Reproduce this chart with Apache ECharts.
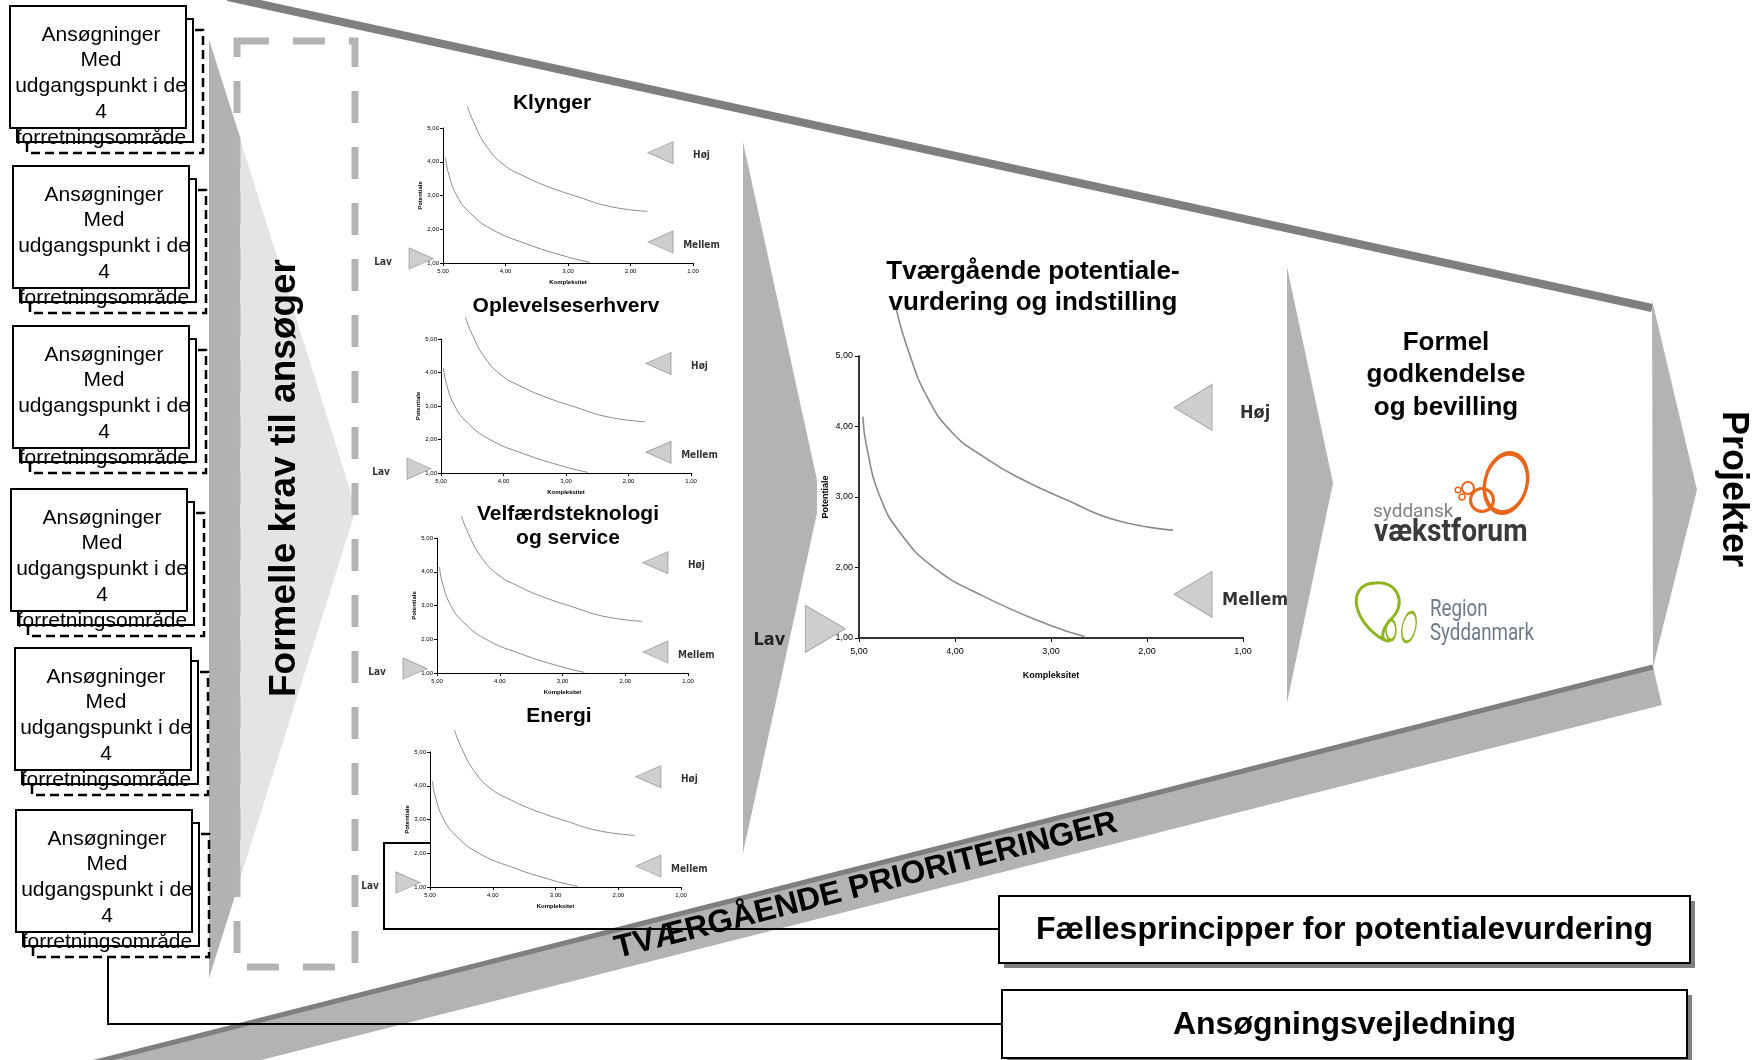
<!DOCTYPE html>
<html><head><meta charset="utf-8">
<script src="https://cdn.jsdelivr.net/npm/echarts@6/dist/echarts.min.js"></script>
<style>html,body{margin:0;padding:0;background:#fff}#c{width:1764px;height:1060px}</style>
</head><body><div id="c"></div>
<script>
// ---- data ----
const upperCurve = [[4.61,5.65],[4.50,5.13],[4.29,4.42],[4.02,3.90],[3.70,3.57],[3.36,3.29],[2.84,2.96],[2.32,2.67],[1.73,2.53]];
const lowerCurve = [[4.96,4.14],[4.92,3.71],[4.78,3.00],[4.57,2.49],[4.23,2.01],[3.70,1.59],[3.01,1.18],[2.65,1.02]];
const levelLabels = ['Høj','Mellem','Lav'];
const levelPoints = [[1.52,4.27],[1.52,1.62],[5.35,1.13]];
const axisRange = [1,5];
const xAxisName = 'Kompleksitet';
const yAxisName = 'Potentiale';
const chartTitles = ['Klynger','Oplevelseserhverv','Velfærdsteknologi\nog service','Energi','Tværgående potentiale-\nvurdering og indstilling'];
const boxLines = ['Ansøgninger','Med','udgangspunkt i de','4','forretningsområde'];
const stageTitles = ['Formelle krav til ansøger','Formel\ngodkendelse\nog bevilling','Projekter'];
const bandText = 'TVÆRGÅENDE PRIORITERINGER';
const footerBoxes = ['Fællesprincipper for potentialevurdering','Ansøgningsvejledning'];
const logoTexts = ['syddansk','vækstforum','Region','Syddanmark'];

// ---- layout ----
const panels = [
  {left:443, top:128, width:250, height:135, tx:552, ty:103, big:false},
  {left:441, top:339, width:250, height:134, tx:566, ty:306, big:false},
  {left:437, top:538, width:251, height:135, tx:568, ty:526, big:false},
  {left:430, top:752, width:251, height:135, tx:559, ty:716, big:false},
  {left:859, top:356, width:384, height:282, tx:1033, ty:287.5, big:true}
];
const boxPos = [[10,6],[13,166],[13,326],[11,489],[15,648],[16,810]];

const NARROW = "'Liberation Sans Narrow','DejaVu Sans Condensed','Liberation Sans',Arial,sans-serif";
const SANS = "'Liberation Sans',Arial,sans-serif";
const fmt = v => v.toFixed(2).replace('.', ',');

const grids=[], xAxes=[], yAxes=[], series=[];
panels.forEach((p,i)=>{
  const big = p.big;
  grids.push({left:p.left, top:p.top, width:p.width, height:p.height, containLabel:false, outerBoundsMode:'none'});
  const axisLab = {fontSize: big?9:6, color:'#000', fontFamily:SANS, formatter: fmt};
  const lineSt = {color: big?'#333':'#000', width: big?2:1};
  xAxes.push({gridIndex:i, type:'value', min:axisRange[0], max:axisRange[1], interval:1, inverse:true,
    name:xAxisName, nameLocation:'middle', nameGap: big?33:16,
    nameTextStyle:{fontSize: big?9:6, fontWeight:'bold', color:'#000', fontFamily:SANS},
    axisLine:{show:true, onZero:false, lineStyle:lineSt},
    axisTick:{show:true, length: big?4:3, lineStyle:{color:'#000', width:1}},
    axisLabel:Object.assign({margin: big?9:5}, axisLab), splitLine:{show:false}});
  yAxes.push({gridIndex:i, type:'value', min:axisRange[0], max:axisRange[1], interval:1,
    name:yAxisName, nameLocation:'middle', nameRotate:90, nameGap: big?29:19,
    nameTextStyle:{fontSize: big?9:6, fontWeight:'bold', color:'#000', fontFamily:SANS},
    axisLine:{show:true, onZero:false, lineStyle:lineSt},
    axisTick:{show:true, length: big?4:3, lineStyle:{color:'#000', width:1}},
    axisLabel:Object.assign({margin: big?6:4}, axisLab), splitLine:{show:false}});
  [upperCurve, lowerCurve].forEach(c=>{
    series.push({type:'line', xAxisIndex:i, yAxisIndex:i, data:c, smooth:true, showSymbol:false, clip:false,
      silent:true, lineStyle:{color:'#8a8a8a', width: big?1.6:1}});
  });
  series.push({type:'scatter', xAxisIndex:i, yAxisIndex:i, clip:false, silent:true,
    itemStyle:{color:'#c2c2c2', borderColor:'#9a9a9a', borderWidth:1},
    data: levelPoints.map((pt,k)=>({
      value: pt,
      symbol:'triangle',
      symbolRotate: k<2 ? 90 : -90,
      symbolSize: big ? (k<2?[46,38]:[47,40]) : (k<2?[22,25]:[21,24]),
      label:{show:true, position:'inside', formatter: levelLabels[k], color:'#000',
        fontFamily:NARROW, fontWeight:'bold', fontSize: big?18:10,
        offset: big ? (k<2?[62,6]:[-56,11]) : (k<2?[41,3]:[-38,4])}
    }))});
});

// ---- graphic elements ----
const G = [];
// top funnel line
G.push({type:'line', shape:{x1:228,y1:-3,x2:1652,y2:308}, style:{stroke:'#7f7f7f', lineWidth:8}, z:1});
// bottom band
G.push({type:'polygon', shape:{points:[[60,1071],[1653,667],[1662,705],[60,1111]]}, style:{fill:'#b3b3b3'}, z:1});
G.push({type:'line', shape:{x1:60,y1:1071,x2:1653,y2:667}, style:{stroke:'#7f7f7f', lineWidth:5}, z:1});
// left big arrow
G.push({type:'polygon', shape:{points:[[209,40],[356,509],[209,978]]}, style:{fill:'#e4e4e4'}, z:1});
G.push({type:'polygon', shape:{points:[[209,40],[240,137],[240,880],[209,978]]}, style:{fill:'#b2b2b2'}, z:1});
// chevrons
G.push({type:'polygon', shape:{points:[[743,142],[817,480],[817,513],[743,853]]}, style:{fill:'#b3b3b3'}, z:1});
G.push({type:'polygon', shape:{points:[[1287,267],[1333,483],[1287,703]]}, style:{fill:'#b3b3b3'}, z:1});
G.push({type:'polygon', shape:{points:[[1652,300],[1697,490],[1653,667]]}, style:{fill:'#b3b3b3'}, z:1});
// dashed rectangle
G.push({type:'rect', shape:{x:237,y:41,width:118,height:926}, style:{fill:'none', stroke:'#b3b3b3', lineWidth:7, lineDash:[32,24]}, z:2});
// connectors
G.push({type:'polyline', shape:{points:[[998,929],[384,929],[384,843],[430,843]]}, style:{stroke:'#000', lineWidth:2, fill:'none'}, z:1});
G.push({type:'polyline', shape:{points:[[1002,1024],[108,1024],[108,945]]}, style:{stroke:'#000', lineWidth:2, fill:'none'}, z:1});
// left boxes
boxPos.forEach(([l,t])=>{
  G.push({type:'rect', shape:{x:l+17,y:t+24,width:176,height:123}, style:{fill:'#fff', stroke:'#000', lineWidth:2.5, lineDash:[9,5]}, z:5});
  G.push({type:'rect', shape:{x:l+7,y:t+13,width:176,height:123}, style:{fill:'#fff', stroke:'#000', lineWidth:2}, z:5});
  G.push({type:'rect', shape:{x:l,y:t,width:176,height:122}, style:{fill:'#fff', stroke:'#000', lineWidth:2}, z:5});
  boxLines.forEach((s,k)=>{
    G.push({type:'text', x:l+91, y:t+29+k*25.7, style:{text:s, fontSize:21, fontFamily:SANS, fill:'#000', align:'center', verticalAlign:'middle'}, z:6});
  });
});
// stage titles
G.push({type:'text', x:285, y:478, rotation:Math.PI/2, style:{text:stageTitles[0], fontSize:37, fontWeight:'bold', fontFamily:SANS, fill:'#000', align:'center', verticalAlign:'middle'}, z:10});
G.push({type:'text', x:1446, y:375, style:{text:stageTitles[1], fontSize:26, fontWeight:'bold', fontFamily:SANS, fill:'#000', align:'center', verticalAlign:'middle', lineHeight:32.5}, z:10});
G.push({type:'text', x:1733, y:489, rotation:-Math.PI/2, style:{text:stageTitles[2], fontSize:36, fontWeight:'bold', fontFamily:SANS, fill:'#000', align:'center', verticalAlign:'middle'}, z:10});
// chart titles
panels.forEach((p,i)=>{
  G.push({type:'text', x:p.tx, y:p.ty, style:{text:chartTitles[i], fontSize:p.big?26:21, fontWeight:'bold', fontFamily:SANS, fill:'#000', align:'center', verticalAlign:'middle', lineHeight:p.big?31:24}, z:10});
});
// band text
G.push({type:'text', x:866, y:886, rotation:Math.atan(0.2534), style:{text:bandText, fontSize:32, fontWeight:'bold', fontFamily:SANS, fill:'#000', align:'center', verticalAlign:'middle'}, z:10});
// footer boxes
[[999,896,691,67],[1002,990,685,68]].forEach(([x,y,w,h],k)=>{
  G.push({type:'rect', shape:{x:x+5,y:y+5,width:w,height:h}, style:{fill:'#7f7f7f'}, z:7});
  G.push({type:'rect', shape:{x:x,y:y,width:w,height:h}, style:{fill:'#fff', stroke:'#000', lineWidth:2}, z:8});
  G.push({type:'text', x:x+w/2, y:y+h/2+1, style:{text:footerBoxes[k], fontSize:32, fontWeight:'bold', fontFamily:SANS, fill:'#000', align:'center', verticalAlign:'middle'}, z:9});
});
// logo: syddansk vækstforum
const OR = '#e8661c';
G.push({type:'circle', x:1506, y:483, rotation:-0.25, scaleX:0.84, scaleY:1.2, shape:{cx:0,cy:0,r:25}, style:{fill:'none', stroke:OR, lineWidth:4}, z:10});
G.push({type:'circle', shape:{cx:1482,cy:500,r:11.5}, style:{fill:'none', stroke:OR, lineWidth:3}, z:10});
G.push({type:'circle', shape:{cx:1468,cy:488,r:6}, style:{fill:'none', stroke:OR, lineWidth:2}, z:10});
G.push({type:'circle', shape:{cx:1458,cy:490,r:2.8}, style:{fill:'none', stroke:OR, lineWidth:1.5}, z:10});
G.push({type:'circle', shape:{cx:1462,cy:497,r:3}, style:{fill:'none', stroke:OR, lineWidth:1.5}, z:10});
G.push({type:'text', x:1373, y:512, style:{text:logoTexts[0], fontSize:19, fontFamily:"Roboto,"+SANS, fill:'#808080', align:'left', verticalAlign:'middle'}, z:10});
G.push({type:'text', x:1374, y:533, scaleX:0.88, style:{text:logoTexts[1], fontSize:32, fontWeight:'bold', fontFamily:"Roboto,"+SANS, fill:'#3a3a3a', align:'left', verticalAlign:'middle'}, z:10});
// logo: Region Syddanmark
const GR = '#8db31e';
G.push({type:'bezierCurve', shape:{x1:1384,y1:640,cpx1:1352,cpy1:622,cpx2:1346,cpy2:584,x2:1375,y2:583}, style:{fill:'none', stroke:GR, lineWidth:3}, z:10});
G.push({type:'bezierCurve', shape:{x1:1375,y1:583,cpx1:1398,cpy1:580,cpx2:1406,cpy2:604,x2:1393,y2:617}, style:{fill:'none', stroke:GR, lineWidth:3}, z:10});
G.push({type:'bezierCurve', shape:{x1:1393,y1:617,cpx1:1382,cpy1:628,cpx2:1378,cpy2:642,x2:1390,y2:641}, style:{fill:'none', stroke:GR, lineWidth:3}, z:10});
G.push({type:'circle', x:1391, y:630, scaleX:0.5, scaleY:1.0, shape:{cx:0,cy:0,r:10}, style:{fill:'none', stroke:GR, lineWidth:3}, z:10});
G.push({type:'circle', x:1409, y:627, rotation:-0.2, scaleX:0.45, scaleY:1.0, shape:{cx:0,cy:0,r:15}, style:{fill:'none', stroke:GR, lineWidth:3}, z:10});
G.push({type:'text', x:1430, y:610, scaleX:0.78, style:{text:logoTexts[2], fontSize:24, fontFamily:"Roboto,"+SANS, fill:'#6d7b88', align:'left', verticalAlign:'middle'}, z:10});
G.push({type:'text', x:1430, y:634, scaleX:0.78, style:{text:logoTexts[3], fontSize:24, fontFamily:"Roboto,"+SANS, fill:'#6d7b88', align:'left', verticalAlign:'middle'}, z:10});

const chart = echarts.init(document.getElementById('c'), null, {renderer:'canvas'});
chart.setOption({
  backgroundColor:'#fff',
  animation:false,
  grid:grids, xAxis:xAxes, yAxis:yAxes, series:series,
  graphic:{elements:G}
});
</script></body></html>
